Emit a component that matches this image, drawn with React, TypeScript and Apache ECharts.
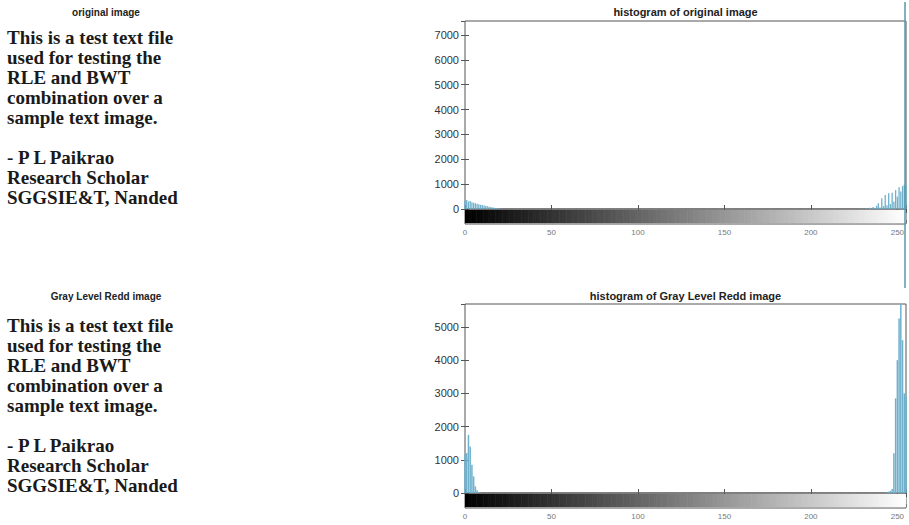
import React, { useEffect, useRef } from "react";
import * as echarts from "echarts";

// ---- data ----
const grayLevels: number[] = Array.from({ length: 256 }, (_, i) => i);
const xTickValues = [0, 50, 100, 150, 200, 250];

// histogram of original image (bins with counts)
const origBinsLow = [0, 1, 2, 3, 4, 5, 6, 7, 8, 9, 10, 11, 12, 13, 14, 15, 16, 17, 18, 19, 20, 21];
const origCountsLow = [330, 360, 300, 320, 270, 250, 230, 210, 190, 170, 160, 140, 130, 110, 90, 80, 65, 50, 40, 30, 20, 10];
const origBinsHigh = [228, 229, 230, 231, 232, 233, 234, 235, 236, 237, 238, 239, 240, 241, 242, 243, 244, 245, 246, 247, 248, 249, 250, 251, 252, 253, 254, 255];
const origCountsHigh = [10, 0, 20, 0, 35, 10, 55, 20, 80, 40, 130, 230, 60, 430, 120, 560, 150, 630, 200, 650, 300, 760, 500, 870, 700, 920, 980, 1000];

// histogram of gray level reduced image
const reddBinsLow = [0, 1, 2, 3, 4, 5, 6, 7, 8, 9];
const reddCountsLow = [1150, 1200, 1750, 1400, 850, 500, 200, 80, 30, 10];
const reddBinsHigh = [244, 245, 246, 247, 248, 249, 250, 251, 252, 253, 254, 255];
const reddCountsHigh = [20, 40, 60, 120, 1200, 2850, 4000, 5250, 5800, 4600, 3000, 2900];

const origYMax = 7560;
const reddYMax = 5690;

const titles = ["histogram of original image", "histogram of Gray Level Redd image"];
const imageTitles = ["original image", "Gray Level Redd image"];
const paragraphLines = [
  "This is a test text file",
  "used for testing the",
  "RLE and BWT",
  "combination over a",
  "sample text image.",
  "",
  "- P L Paikrao",
  "Research Scholar",
  "SGGSIE&T, Nanded",
];

const barColor = "#6fb0cc";
const sans = "Liberation Sans, Arial, sans-serif";

export default function App() {
  const ref = useRef<HTMLDivElement>(null);
  useEffect(() => {
    if (!ref.current) return;
    const chart = echarts.init(ref.current, undefined, { renderer: "svg" });

    const origData = [
      ...origBinsLow.map((b, i) => [b, origCountsLow[i]]),
      ...origBinsHigh.map((b, i) => [b, origCountsHigh[i]]),
    ];
    const reddData = [
      ...reddBinsLow.map((b, i) => [b, reddCountsLow[i]]),
      ...reddBinsHigh.map((b, i) => [b, reddCountsHigh[i]]),
    ];

    const L = 465;
    const W = 441;
    const gridDefs = [
      { top: 21, height: 188 },
      { top: 209, height: 15 },
      { top: 304, height: 189 },
      { top: 493, height: 15 },
    ];
    const grid = gridDefs.map((g) => ({
      left: L,
      width: W,
      top: g.top,
      height: g.height,
      show: true,
      borderColor: "#555",
      borderWidth: 1,
      backgroundColor: "transparent",
    }));

    const histX = (gi: number, pos: "bottom" | "top") => ({
      type: "value",
      gridIndex: gi,
      position: pos,
      min: 0,
      max: 255,
      interval: 50,
      axisLine: { show: false },
      axisTick: { show: true, inside: true, length: 4, lineStyle: { color: "#555" } },
      axisLabel: { show: false },
      splitLine: { show: false },
    });
    const barX = (gi: number) => ({
      type: "value",
      gridIndex: gi,
      position: "bottom",
      min: 0,
      max: 255,
      interval: 50,
      axisLine: { show: false },
      axisTick: { show: true, inside: true, length: 3, lineStyle: { color: "#777" } },
      axisLabel: {
        show: true,
        fontSize: 8,
        color: "#777",
        margin: 4,
        fontFamily: sans,
        customValues: xTickValues,
      },
      splitLine: { show: false },
    });
    const histY = (gi: number, max: number, pos: "left" | "right") => ({
      type: "value",
      gridIndex: gi,
      position: pos,
      min: 0,
      max,
      interval: 1000,
      axisLine: { show: false },
      axisTick: { show: true, inside: true, length: 4, lineStyle: { color: "#555" } },
      axisLabel: {
        show: pos === "left",
        fontSize: 11,
        color: "#333",
        margin: 6,
        showMaxLabel: false,
        fontFamily: sans,
        formatter: (v: number) => String(v),
      },
      splitLine: { show: false },
    });
    const barY = (gi: number) => ({
      type: "value",
      gridIndex: gi,
      min: -0.07,
      max: 1.07,
      show: false,
    });

    const renderGray = (params: any, api: any) => {
      const v = api.value(0);
      const p0 = api.coord([Math.max(v - 0.5, 0), 1]);
      const p1 = api.coord([Math.min(v + 0.5, 255), 0]);
      const g = Math.round(v);
      return {
        type: "rect",
        shape: { x: p0[0], y: p0[1], width: p1[0] - p0[0] + 0.6, height: p1[1] - p0[1] },
        style: { fill: `rgb(${g},${g},${g})` },
      };
    };

    const grayData = grayLevels.map((v) => [v]);

    const textBlock = (top: number) => ({
      type: "text",
      left: 7,
      top,
      style: {
        text: paragraphLines.join("\n"),
        font: "bold 19px 'Liberation Serif', 'Times New Roman', serif",
        fill: "#1a1a1a",
        lineHeight: 20,
      },
    });

    const titleStyle = (size: number) => ({ fontSize: size, fontWeight: "bold", color: "#222", fontFamily: sans });

    chart.setOption({
      animation: false,
      backgroundColor: "#fff",
      grid,
      xAxis: [histX(0, "bottom"), histX(0, "top"), barX(1), histX(2, "bottom"), histX(2, "top"), barX(3)],
      yAxis: [
        histY(0, origYMax, "left"),
        histY(0, origYMax, "right"),
        barY(1),
        histY(2, reddYMax, "left"),
        histY(2, reddYMax, "right"),
        barY(3),
      ],
      title: [
        { text: titles[0], left: L + W / 2, textAlign: "center", top: 6, padding: 0, textStyle: titleStyle(11) },
        { text: titles[1], left: L + W / 2, textAlign: "center", top: 290, padding: 0, textStyle: titleStyle(11) },
        { text: imageTitles[0], left: 106, textAlign: "center", top: 7, padding: 0, textStyle: titleStyle(10) },
        { text: imageTitles[1], left: 106, textAlign: "center", top: 291, padding: 0, textStyle: titleStyle(10) },
      ],
      graphic: [
        textBlock(27),
        textBlock(315),
        {
          type: "line",
          shape: { x1: 905, y1: 2, x2: 905, y2: 288 },
          style: { stroke: "#5b97ad", lineWidth: 1.5 },
          z: 10,
        },
      ],
      series: [
        {
          type: "bar",
          xAxisIndex: 0,
          yAxisIndex: 0,
          data: origData,
          barWidth: 1.3,
          itemStyle: { color: barColor },
        },
        {
          type: "custom",
          xAxisIndex: 2,
          yAxisIndex: 2,
          data: grayData,
          renderItem: renderGray,
          clip: true,
        },
        {
          type: "bar",
          xAxisIndex: 3,
          yAxisIndex: 3,
          data: reddData,
          barWidth: 1.5,
          itemStyle: { color: barColor },
        },
        {
          type: "custom",
          xAxisIndex: 5,
          yAxisIndex: 5,
          data: grayData,
          renderItem: renderGray,
          clip: true,
        },
      ],
    });
    return () => chart.dispose();
  }, []);
  return (
    <div
      ref={ref}
      style={{ position: "absolute", left: 0, top: 0, width: 909, height: 525, background: "#fff" }}
    />
  );
}
